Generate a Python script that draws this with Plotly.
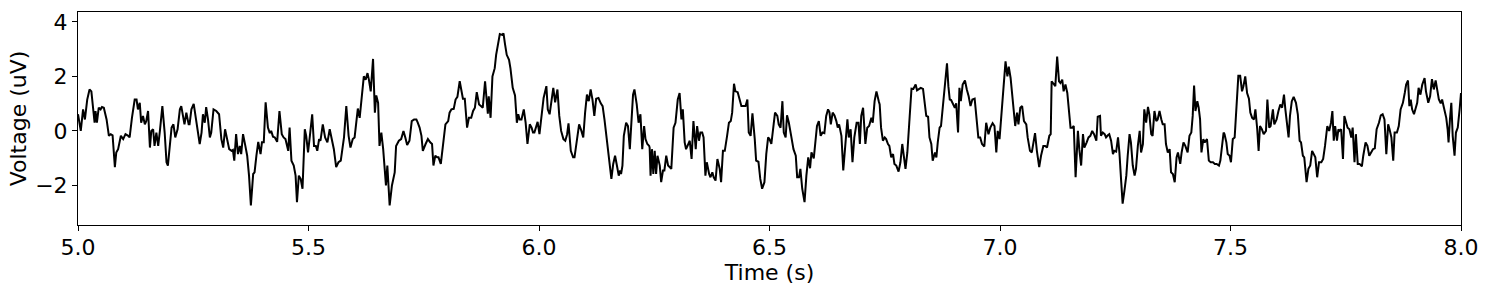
import plotly.graph_objects as go

time_s = [
5.000,5.006,5.011,5.015,5.020,5.025,5.029,5.033,5.036,5.038,5.041,5.045,5.049,5.052,5.056,5.062,5.067,5.071,5.075,5.080,
5.083,5.087,5.093,5.098,5.103,5.109,5.112,5.117,5.123,5.127,5.130,5.134,5.137,5.141,5.145,5.148,5.152,5.156,5.159,5.163,
5.166,5.170,5.174,5.178,5.183,5.188,5.192,5.195,5.199,5.203,5.207,5.211,5.216,5.221,5.224,5.228,5.231,5.235,5.240,
5.242,5.246,5.251,5.255,5.260,5.264,5.268,5.271,5.275,5.278,5.282,5.286,5.289,5.294,5.300,5.306,5.311,5.315,5.319,5.323,
5.328,5.333,5.336,5.339,5.343,5.347,5.351,5.354,5.358,5.363,5.367,5.371,5.375,5.380,5.383,5.387,5.391,5.396,5.399,5.403,
5.407,5.412,5.416,5.419,5.423,5.427,5.432,5.437,5.442,5.446,5.450,5.456,5.459,5.463,5.468,5.472,5.475,5.479,5.483,5.487,
5.492,5.495,5.499,5.503,5.508,5.512,5.516,5.519,5.523,5.526,5.531,5.536,5.541,5.546,5.550,5.555,5.560,5.565,5.570,5.577,
5.582,5.587,5.591,5.596,5.600,5.604,5.607,5.611,5.615,5.620,5.624,5.628,5.631,5.635,5.640,5.642,5.644,5.647,5.651,5.654,
5.658,5.662,5.665,5.668,5.671,5.676,5.681,5.687,5.690,5.696,5.701,5.706,5.710,5.714,5.719,5.724,5.729,5.734,5.737,
5.741,5.745,5.748,5.754,5.759,5.764,5.768,5.771,5.775,5.779,5.782,5.787,5.790,5.793,5.797,5.803,5.806,5.810,5.815,5.819,
5.823,5.828,5.831,5.835,5.839,5.844,5.848,5.853,5.857,5.861,5.865,5.870,5.874,5.878,5.883,5.886,5.889,5.891,5.895,5.899,
5.904,5.907,5.912,5.915,5.920,5.923,5.926,5.930,5.935,5.938,5.943,5.948,5.952,5.955,5.958,5.962,5.967,5.971,5.975,5.980,
5.984,5.987,
5.990,5.994,5.997,6.001,6.005,6.010,6.016,6.019,6.023,6.027,6.031,6.035,6.040,6.044,6.048,6.053,6.057,6.061,6.064,6.069,
6.074,6.077,6.082,6.087,6.092,6.096,6.100,6.104,6.108,6.112,6.116,6.120,6.124,6.129,6.134,6.138,6.142,6.146,6.150,6.153,
6.157,6.161,6.165,6.169,6.173,6.176,6.178,6.181,6.184,6.189,6.193,6.197,6.200,6.204,6.207,6.212,6.216,6.220,6.224,6.228,
6.231,6.235,6.239,
6.240,6.242,6.245,6.248,6.251,6.254,6.257,6.262,6.265,6.269,6.272,6.276,6.280,6.287,6.292,6.296,6.301,6.305,6.309,6.312,
6.316,6.319,6.323,6.327,6.331,6.335,6.340,6.343,6.347,6.350,6.354,6.357,6.361,6.364,6.369,6.372,6.376,6.379,6.383,6.387,
6.392,6.395,6.399,6.403,6.408,6.412,6.416,6.419,6.423,6.426,6.431,6.435,6.439,6.444,6.448,6.452,6.455,6.459,6.463,6.468,
6.471,6.476,6.480,6.484,
6.489,6.493,6.497,6.500,6.504,6.509,6.512,6.517,6.520,6.524,6.528,6.531,6.535,6.538,6.542,6.547,6.552,6.557,6.560,6.564,
6.567,6.571,6.576,6.580,6.584,6.588,6.591,6.596,6.599,6.603,6.607,6.611,6.615,6.619,6.623,6.627,6.630,6.633,6.637,6.641,
6.645,6.648,6.651,6.656,6.660,6.664,6.669,6.672,6.676,6.680,6.684,6.689,6.693,6.696,6.699,6.703,6.708,6.712,6.716,6.721,
6.724,6.728,6.732,6.737,
6.739,6.742,6.746,6.750,6.753,6.757,6.760,6.764,6.768,6.771,6.775,6.780,6.784,6.788,6.791,6.795,6.799,6.804,6.808,6.812,
6.817,6.820,6.824,6.828,6.833,6.836,6.840,6.844,6.847,6.851,6.854,6.859,6.862,6.865,6.869,6.872,6.876,6.880,6.885,6.888,
6.891,6.894,6.898,6.902,6.905,6.909,6.912,6.915,6.919,6.924,6.928,6.932,6.936,6.940,6.945,6.948,6.953,6.957,6.961,6.966,
6.970,6.975,6.979,6.984,
6.988,6.992,6.995,6.999,7.003,7.008,7.012,7.016,7.019,7.023,7.026,7.030,7.033,7.037,7.040,7.044,7.048,7.052,7.057,7.060,
7.065,7.069,7.073,7.076,7.080,7.085,7.089,7.094,7.098,7.102,7.107,7.110,7.112,7.117,7.120,7.124,7.128,7.131,7.135,7.138,
7.142,7.146,7.149,7.153,7.157,7.160,7.164,7.169,7.172,7.176,7.180,7.183,7.188,7.192,7.196,7.200,7.204,7.209,7.212,7.217,
7.219,7.223,7.227,7.230,7.234,
7.237,7.241,7.245,7.248,7.252,7.256,7.259,7.263,7.266,7.270,7.274,7.277,7.281,7.284,7.288,7.292,7.295,7.299,7.303,7.306,
7.310,7.313,7.317,7.321,7.324,7.328,7.331,7.335,7.339,7.342,7.346,7.350,7.353,7.357,7.360,7.364,7.368,7.371,7.375,7.379,
7.383,7.386,7.391,7.394,7.398,7.402,7.407,7.411,7.415,7.418,7.421,7.424,7.428,7.431,7.434,7.437,7.441,7.444,7.449,7.453,
7.457,7.462,7.466,7.470,7.475,7.478,7.481,7.485,
7.487,7.491,7.494,7.498,7.501,7.505,7.509,7.513,7.517,7.521,7.525,7.528,7.532,7.536,7.540,7.543,7.547,7.551,7.554,7.558,
7.561,7.564,7.568,7.572,7.577,7.580,7.584,7.587,7.592,7.595,7.600,7.604,7.608,7.612,7.616,7.619,7.623,7.626,7.629,7.633,
7.637,7.642,7.646,7.650,7.653,7.657,7.660,7.665,7.669,7.673,7.677,7.681,7.684,7.688,7.692,7.697,7.701,7.705,7.710,7.714,
7.718,7.721,7.724,7.727,7.731,7.734,
7.736,7.740,7.744,7.747,7.751,7.754,7.758,7.762,7.765,7.769,7.772,7.776,7.780,7.785,7.788,7.793,7.797,7.801,7.805,7.809,
7.813,7.817,7.822,7.826,7.830,7.834,7.838,7.842,7.845,7.849,7.853,7.856,7.861,7.865,7.869,7.874,7.878,7.881,7.885,7.888,
7.891,7.894,7.898,7.901,7.905,7.908,7.912,7.916,7.921,7.924,7.929,7.933,7.937,7.941,7.945,7.949,7.952,7.956,7.959,7.963,
7.968,7.971,7.973,7.976,7.979,7.982,7.986,7.989,7.993,7.997,8.000,
]

voltage_uv = [
0.61,0.00,0.79,0.42,1.15,1.52,1.45,0.91,0.30,0.73,0.30,0.85,0.79,0.88,0.85,0.42,-0.18,-0.12,-0.16,-1.33,
-0.79,-0.67,-0.18,-0.30,-0.12,-0.18,-0.24,0.48,1.15,1.15,0.79,1.03,0.30,0.55,0.24,0.36,0.73,-0.61,0.00,0.06,
-0.55,-0.06,-0.55,0.06,0.91,-0.06,-1.15,-1.27,-0.67,0.12,0.24,-0.24,0.06,0.79,0.91,0.42,0.24,0.67,0.24,
0.24,0.79,0.99,0.55,-0.12,-0.48,-0.06,0.61,0.30,0.87,0.42,-0.24,-0.06,0.79,0.73,0.61,-0.30,-0.61,0.06,-0.30,
-0.67,-0.73,-0.70,-1.09,-0.12,-0.85,-0.55,-0.85,-0.12,-0.55,-0.91,-1.64,-2.73,-1.58,-1.52,-0.91,-0.40,-0.85,-0.42,-0.42,
1.05,0.12,-0.08,0.00,-0.21,-0.24,-0.40,0.73,-0.12,-0.24,-0.30,-0.73,0.12,-1.09,-1.27,-1.64,-2.61,-1.64,-1.76,-2.12,
0.06,-0.18,-0.79,-0.18,0.61,-0.55,-0.55,-0.73,-0.30,-0.36,0.24,-0.24,-0.42,0.06,-0.24,-0.67,-1.33,-1.15,-1.09,-0.24,
0.91,-0.18,-0.61,-0.30,-0.24,0.42,0.82,0.48,1.27,2.00,1.88,2.12,1.88,1.45,2.64,1.88,0.67,1.30,1.03,-0.55,
-0.06,-0.67,-1.45,-2.00,-1.27,-2.73,-2.00,-1.52,-0.55,-0.36,-0.30,0.00,-0.24,-0.52,-0.36,0.36,0.42,0.42,0.30,
0.12,-0.18,-0.73,-0.48,-0.30,-0.42,-0.48,-1.27,-0.91,-0.97,-0.97,-1.21,-0.79,-0.30,0.24,0.36,0.67,0.79,0.81,1.15,
1.25,1.82,1.52,1.18,1.18,0.12,0.48,0.48,0.73,0.85,1.42,0.97,0.91,0.85,1.82,1.15,0.63,1.27,0.48,2.00,
2.30,2.79,3.21,3.55,3.52,3.58,3.21,2.79,2.61,2.30,1.58,1.30,0.30,0.61,0.42,0.42,0.79,0.30,-0.48,0.24,
0.12,-0.06,
-0.06,0.18,0.33,-0.12,0.42,1.21,1.64,0.79,0.61,1.03,1.58,1.05,1.52,0.55,0.00,-0.30,-0.36,-0.12,0.28,-0.73,
-0.97,-0.97,-0.36,0.24,0.00,-0.24,0.67,1.33,1.09,1.52,1.15,0.55,1.18,1.21,1.01,0.91,0.42,-0.18,-0.79,-1.27,
-1.76,-1.21,-0.91,-1.27,-1.64,-1.45,-1.58,-1.27,-0.18,0.30,0.18,-0.67,0.24,1.33,1.52,0.97,0.30,0.61,-0.67,0.18,
-0.30,-0.48,-0.55,
-0.61,-1.64,-0.67,-1.58,-0.73,-1.58,-0.91,-1.27,-1.88,-1.45,-1.45,-0.91,-1.27,-1.39,0.12,0.30,1.15,1.39,0.42,0.79,
-0.42,-0.67,-0.48,-0.36,-1.03,0.36,-0.67,0.18,-0.36,-0.06,-0.06,-0.24,-1.64,-1.15,-1.58,-1.70,-1.52,-1.70,-1.82,-1.03,
-1.39,-1.88,-0.73,-0.73,-0.18,0.30,0.36,0.67,1.73,1.45,1.42,1.21,0.91,0.91,0.91,1.15,-0.06,-0.18,0.64,-0.30,
-1.09,-1.13,-1.76,-2.12,
-1.88,-0.85,-0.24,-0.30,-0.48,0.24,0.67,0.55,0.24,0.12,1.09,-0.06,-0.24,0.57,0.30,-0.18,-0.67,-0.91,-1.70,-1.70,
-1.39,-2.12,-2.61,-1.64,-0.97,-1.37,-0.79,-1.01,-0.42,0.18,0.36,-0.18,-0.06,-0.08,0.55,0.79,0.69,0.24,0.67,0.57,
0.36,0.12,0.24,-0.18,-1.45,-0.48,0.42,-0.24,0.06,-1.15,-0.24,0.30,0.30,-0.48,0.55,0.85,-0.48,0.12,0.18,0.48,
0.30,1.09,1.45,1.09,
0.97,0.12,-0.36,-0.24,-0.30,-0.48,-0.55,-0.97,-0.85,-1.21,-1.27,-1.49,-1.15,-0.48,-0.91,-1.39,-0.79,0.67,1.55,1.54,
1.70,1.49,1.54,1.58,1.54,1.15,0.55,0.52,-0.24,-0.48,-1.09,-0.79,-0.97,-0.42,0.12,0.18,0.91,1.70,2.48,1.64,
1.15,1.13,0.97,0.85,1.01,-0.06,1.58,1.09,1.70,1.85,1.52,1.27,0.91,1.15,1.18,0.55,-0.24,-0.24,-0.48,-0.57,
0.30,-0.12,0.12,0.28,
0.18,-0.79,0.00,-0.30,0.55,1.64,2.55,2.00,2.36,1.94,1.33,0.61,0.18,0.67,0.24,0.85,0.91,0.36,0.24,-0.24,
-0.73,-0.79,-0.42,-0.08,-0.73,-1.33,-0.91,-0.55,-0.55,-0.61,-0.18,-0.12,1.82,1.70,1.64,2.73,1.82,1.76,1.88,1.45,
1.70,1.39,0.79,0.12,0.12,0.18,-1.70,0.00,-0.67,-1.27,-0.12,-0.61,-0.42,-0.24,-0.18,0.00,-0.12,-0.36,0.52,0.55,
-0.18,-0.06,-0.12,-0.24,-0.16,
-0.12,-0.36,-0.85,-0.73,-0.76,-0.24,-0.79,-1.88,-2.67,-2.18,-1.64,-0.91,-0.12,-0.42,-1.27,-1.64,-1.39,-0.55,0.00,-0.79,
-0.48,0.79,0.30,0.88,0.61,-0.12,-0.18,0.73,0.36,0.42,0.73,0.42,0.24,0.24,-0.48,-0.79,-0.67,-1.52,-1.58,-1.88,
-0.97,-0.79,-1.21,-0.79,-0.42,-0.55,-0.79,-0.18,-0.06,0.55,1.66,0.73,1.09,0.85,0.42,-0.79,-0.30,-0.42,-0.30,-1.09,
-1.15,-1.15,-1.21,-1.21,-1.27,-1.09,-0.67,-0.06,
-0.12,-0.42,-0.85,-0.91,-1.15,-0.30,-0.24,0.91,2.02,2.02,1.45,1.64,2.00,1.39,1.18,0.67,0.48,0.42,0.79,0.06,
-0.73,0.18,0.06,-0.12,0.00,1.15,0.12,0.18,0.79,0.24,0.42,0.73,0.97,0.85,1.33,0.79,0.24,-0.24,0.55,1.09,
1.25,1.03,0.61,-0.36,-0.42,-0.91,-0.97,-1.88,-1.39,-1.27,-0.73,-0.91,-0.97,-1.70,-1.15,-1.15,-1.03,-0.55,0.18,0.00,
0.30,0.73,-0.36,0.18,-0.36,0.06,
0.00,0.06,-1.03,0.55,0.24,0.12,0.06,-0.24,0.12,-1.15,-0.12,-1.21,-1.21,-1.30,-0.91,-0.42,-0.55,-0.91,-0.79,-0.67,
-0.64,0.06,0.30,0.57,0.61,0.42,-0.85,0.24,0.06,-0.24,-1.09,-0.06,-0.06,0.18,0.79,1.03,1.39,1.70,1.85,0.91,
1.15,0.79,0.61,0.79,1.03,1.58,1.33,1.70,1.94,1.45,1.03,1.27,1.90,1.52,1.85,1.45,1.15,1.01,1.15,0.85,
0.48,0.06,-0.42,0.42,1.03,-0.18,-0.91,-0.06,0.12,0.79,1.39,
]

x_ticks = [5.0, 5.5, 6.0, 6.5, 7.0, 7.5, 8.0]
x_tick_text = ["5.0", "5.5", "6.0", "6.5", "7.0", "7.5", "8.0"]
y_ticks = [-2, 0, 2, 4]
y_tick_text = ["\u22122", "0", "2", "4"]

fig = go.Figure()
fig.add_trace(go.Scatter(
    x=time_s, y=voltage_uv, mode="lines",
    line=dict(color="black", width=2),
    showlegend=False, hoverinfo="skip",
))

axis_common = dict(
    showline=True, linecolor="black", linewidth=1, mirror=True,
    ticks="outside", ticklen=5, tickwidth=1, tickcolor="black",
    showgrid=False, zeroline=False,
    tickfont=dict(family="DejaVu Sans", size=22, color="black"),
)

fig.update_layout(
    width=1489, height=290,
    margin=dict(l=78, r=27, t=10, b=65),
    paper_bgcolor="white", plot_bgcolor="white",
    font=dict(family="DejaVu Sans", size=22, color="black"),
    xaxis=dict(range=[5.0, 8.0], tickvals=x_ticks, ticktext=x_tick_text,
               ticklabelstandoff=-2,
               title=dict(text="Time (s)", font=dict(size=22), standoff=0),
               **axis_common),
    yaxis=dict(range=[-3.45, 4.36], tickvals=y_ticks, ticktext=y_tick_text,
               title=dict(text="Voltage (uV)", font=dict(size=22), standoff=2),
               **axis_common),
)

fig.write_html("out.html")
